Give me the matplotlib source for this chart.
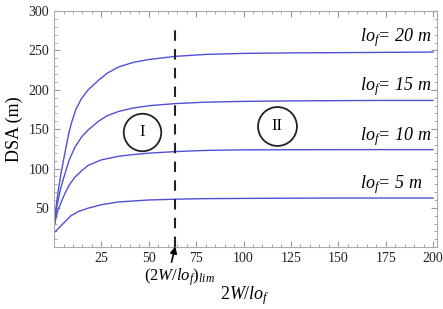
import matplotlib
matplotlib.use('Agg')
import matplotlib.pyplot as plt

plt.rcParams['font.family'] = ['Liberation Serif', 'DejaVu Serif']
plt.rcParams['mathtext.fontset'] = 'custom'
plt.rcParams['mathtext.rm'] = 'Liberation Serif'
plt.rcParams['mathtext.it'] = 'Liberation Serif:italic'

# curves: DSA (m) vs 2W/lof
x20 = [0.3, 1, 2.1, 3.4, 4.8, 6.3, 7.8, 9.2, 11.5, 14.5, 18, 23.4, 28, 34, 42,
       50, 64, 80, 100, 130, 170, 200]
y20 = [30, 50, 70, 90, 108, 127, 145, 158, 175, 189, 200, 212, 221, 229, 235,
       238.5, 242.5, 245, 246.3, 247, 247.5, 248]
x15 = [0.3, 1.5, 3.5, 5.7, 8, 11, 14.5, 18, 23.4, 28, 34, 42, 51, 64, 80, 100,
       130, 170, 200]
y15 = [30, 52, 75, 93, 111, 127, 140, 149, 160, 167, 172.5, 177, 180, 182.5,
       184.3, 185.3, 186, 186.5, 186.5]
x10 = [0.3, 2.1, 3.9, 5.7, 8, 11, 14.5, 18, 25, 34, 41, 50, 64, 80, 100, 150, 200]
y10 = [30, 47.5, 58, 68, 79, 89, 97, 104, 111, 115.5, 117.5, 119.5, 121.5, 123,
       123.7, 124, 124]
x5 = [0.7, 8.9, 13, 18, 25, 34, 50, 64, 80, 100, 150, 200]
y5 = [20, 40, 45.5, 49.6, 54, 57.5, 60, 61, 61.7, 62, 62.5, 62.5]

curves = [(x20, y20), (x15, y15), (x10, y10), (x5, y5)]
lof_labels = ['20 m', '15 m', '10 m', '5 m']
label_y = [266, 204, 141, 79]

x_lim = 64  # (2W/lof)_lim
xticks = [25, 50, 75, 100, 125, 150, 175, 200]
yticks = [50, 100, 150, 200, 250, 300]

fig = plt.figure(figsize=(4.43, 3.09), dpi=100)
ax = fig.add_axes([0.122, 0.2, 0.864, 0.764])

for xs, ys in curves:
    ax.plot(xs, ys, color='#5050d8', lw=1.0)

for lab, yl in zip(lof_labels, label_y):
    ax.text(161.5, yl, r'$lo_f$= ' + lab, ha='left', va='center',
            fontsize=13, style='italic')

ax.plot([x_lim, x_lim], [0, 285], color='#222222', lw=1.5, dashes=(5, 4))

# region markers
ax.plot([46.3], [146], 'o', ms=27, mfc='none', mec='#222222', mew=1.3)
ax.text(46.3, 146, 'I', ha='center', va='center', fontsize=12)
ax.plot([117.5], [154], 'o', ms=28, mfc='none', mec='#222222', mew=1.3)
ax.text(117.5, 154, 'II', ha='center', va='center', fontsize=12)

ax.annotate('', xy=(x_lim, 1), xytext=(62, -19), annotation_clip=False,
            arrowprops=dict(arrowstyle='-|>', color='black', lw=1.2,
                            shrinkA=0, shrinkB=0, mutation_scale=10))
ax.text(66, -38, r'$(2W/lo_f)_{lim}$', ha='center', va='center',
        fontsize=12, clip_on=False)

ax.set_xlim(0, 202)
ax.set_ylim(0, 300)
ax.set_xticks(xticks)
ax.set_yticks(yticks)
ax.set_xticks(range(5, 201, 5), minor=True)
ax.set_yticks(range(10, 301, 10), minor=True)
ax.tick_params(which='both', direction='in', top=True, right=True,
               colors='#999999', labelcolor='#222222', labelsize=10)
ax.tick_params(which='major', length=4)
ax.tick_params(which='minor', length=2)
for s in ax.spines.values():
    s.set_color('#aaaaaa')

ax.set_xlabel(r'$2W/lo_f$', fontsize=13, labelpad=14)
ax.set_ylabel('DSA (m)', fontsize=13, labelpad=4)

fig.savefig('out.png', dpi=100)
